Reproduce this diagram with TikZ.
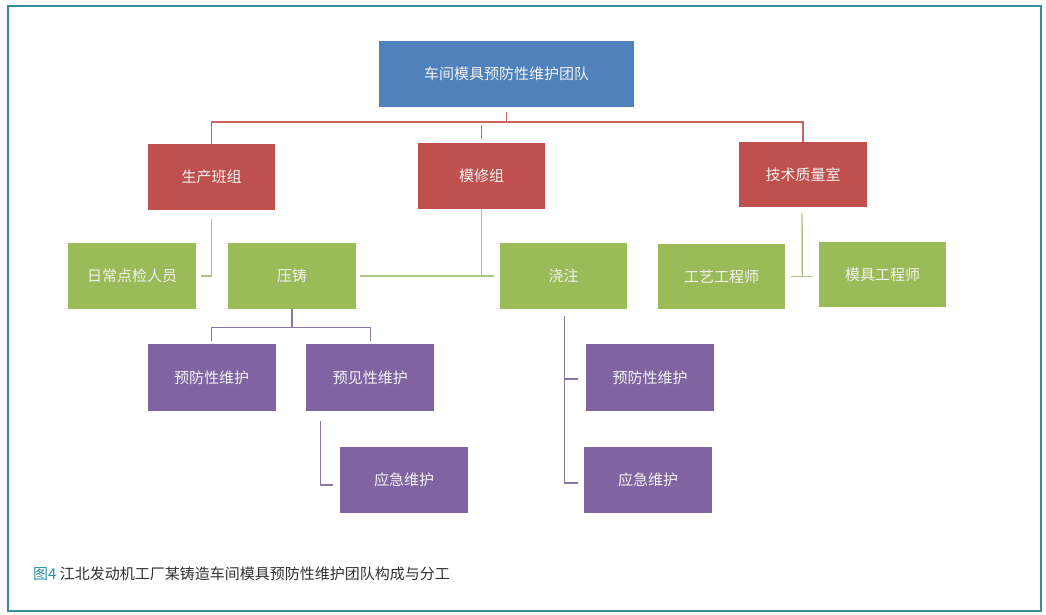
\documentclass[tikz,border=0pt]{standalone}
\usepackage{fontspec}
\newfontfamily\cjk{Noto Sans CJK SC}
\usetikzlibrary{calc}
\definecolor{bblue}{HTML}{4F81BD}
\definecolor{bred}{HTML}{C0504D}
\definecolor{bgreen}{HTML}{9BBB59}
\definecolor{bpurple}{HTML}{8064A2}
\definecolor{lred}{HTML}{CC6461}
\definecolor{lgreen}{HTML}{AFC47E}
\definecolor{lpurple}{HTML}{8A76A8}
\definecolor{frame}{HTML}{3A8D9B}
\definecolor{capteal}{HTML}{2E8EA6}
\definecolor{captext}{HTML}{303030}
\tikzset{
  box/.style={inner sep=0pt, minimum width=127pt, minimum height=66pt, text=white!95!black, font=\cjk\fontsize{15}{18}\selectfont},
  bluebox/.style={box, fill=bblue, minimum width=255pt},
  redbox/.style={box, fill=bred},
  greenbox/.style={box, fill=bgreen},
  purplebox/.style={box, fill=bpurple},
  redline/.style={draw=lred, line width=1.4pt},
  greenline/.style={draw=lgreen, line width=1.4pt},
  purpleline/.style={draw=lpurple, line width=1.4pt},
}
\begin{document}
\begin{tikzpicture}[x=1pt,y=-1pt]
\useasboundingbox (0,0) rectangle (1046,615);
\draw[frame, line width=2pt] (8,6) rectangle (1041,611);
% nodes
\node[bluebox] (top) at (506.5,74) {车间模具预防性维护团队};
\node[redbox] (prod) at (211.5,177) {生产班组};
\node[redbox] (mold) at (481.5,176) {模修组};
\node[redbox, minimum width=128pt, minimum height=65pt] (tech) at (803,174.5) {技术质量室};
\node[greenbox, minimum width=128pt] (daily) at (132,276) {日常点检人员};
\node[greenbox, minimum width=128pt] (diec) at (292,276) {压铸};
\node[greenbox] (pour) at (563.5,276) {浇注};
\node[greenbox, minimum height=65pt] (proc) at (721.5,276.5) {工艺工程师};
\node[greenbox, minimum height=65pt] (moldeng) at (882.5,274.5) {模具工程师};
\node[purplebox, minimum width=128pt, minimum height=67pt] (p1) at (211.7,377.5) {预防性维护};
\node[purplebox, minimum width=128pt, minimum height=67pt] (p2) at (370.4,377.5) {预见性维护};
\node[purplebox, minimum width=128pt] (p3) at (404,480) {应急维护};
\node[purplebox, minimum width=128pt, minimum height=67pt] (p4) at (650,377.5) {预防性维护};
\node[purplebox, minimum width=128pt] (p5) at (648,480) {应急维护};
% red connectors
\coordinate (bus) at ($(top.south)+(0,15)$);
\draw[redline] ($(top.south)+(0,5)$) -- (bus);
\draw[redline] (prod.north) |- (bus) -| (tech.north);
\draw[redline] ($(mold.north)+(0,-4)$) -- ++(0,-14);
% green connectors
\draw[greenline] ($(prod.south)+(0,9)$) |- ($(daily.east)+(5,0)$);
\draw[greenline] (mold.south) -- (mold.south |- diec.east);
\draw[greenline] ($(diec.east)+(4,0)$) -- ($(pour.west)+(-6,0)$);
\coordinate (tj) at ($(proc.east)+(17,0)$);
\draw[greenline] ($(tech.south)+(-1,6)$) -- (tj);
\draw[greenline] ($(proc.east)+(6,0)$) -- ($(proc.east)+(28,0)$);
% purple connectors
\coordinate (pb) at ($(diec.south)+(0,18)$);
\draw[purpleline] (diec.south) -- (pb);
\draw[purpleline] ($(p1.north)+(0,-3)$) |- (pb) -| ($(p2.north)+(0,-3)$);
\draw[purpleline] ($(p2.south west)+(14,10)$) |- ($(p3.west)+(-7,5)$);
\draw[purpleline] ($(pour.south)+(1,7)$) |- ($(p5.west)+(-6,3)$);
\draw[purpleline] ($(p4.west)+(-21,1.5)$) -- ($(p4.west)+(-8,1.5)$);
% caption
\node[anchor=west, inner sep=0pt, font=\cjk\fontsize{15}{18}\selectfont, text=captext] (cap) at (33,574) {\textcolor{capteal}{图4} 江北发动机工厂某铸造车间模具预防性维护团队构成与分工};
\end{tikzpicture}
\end{document}
